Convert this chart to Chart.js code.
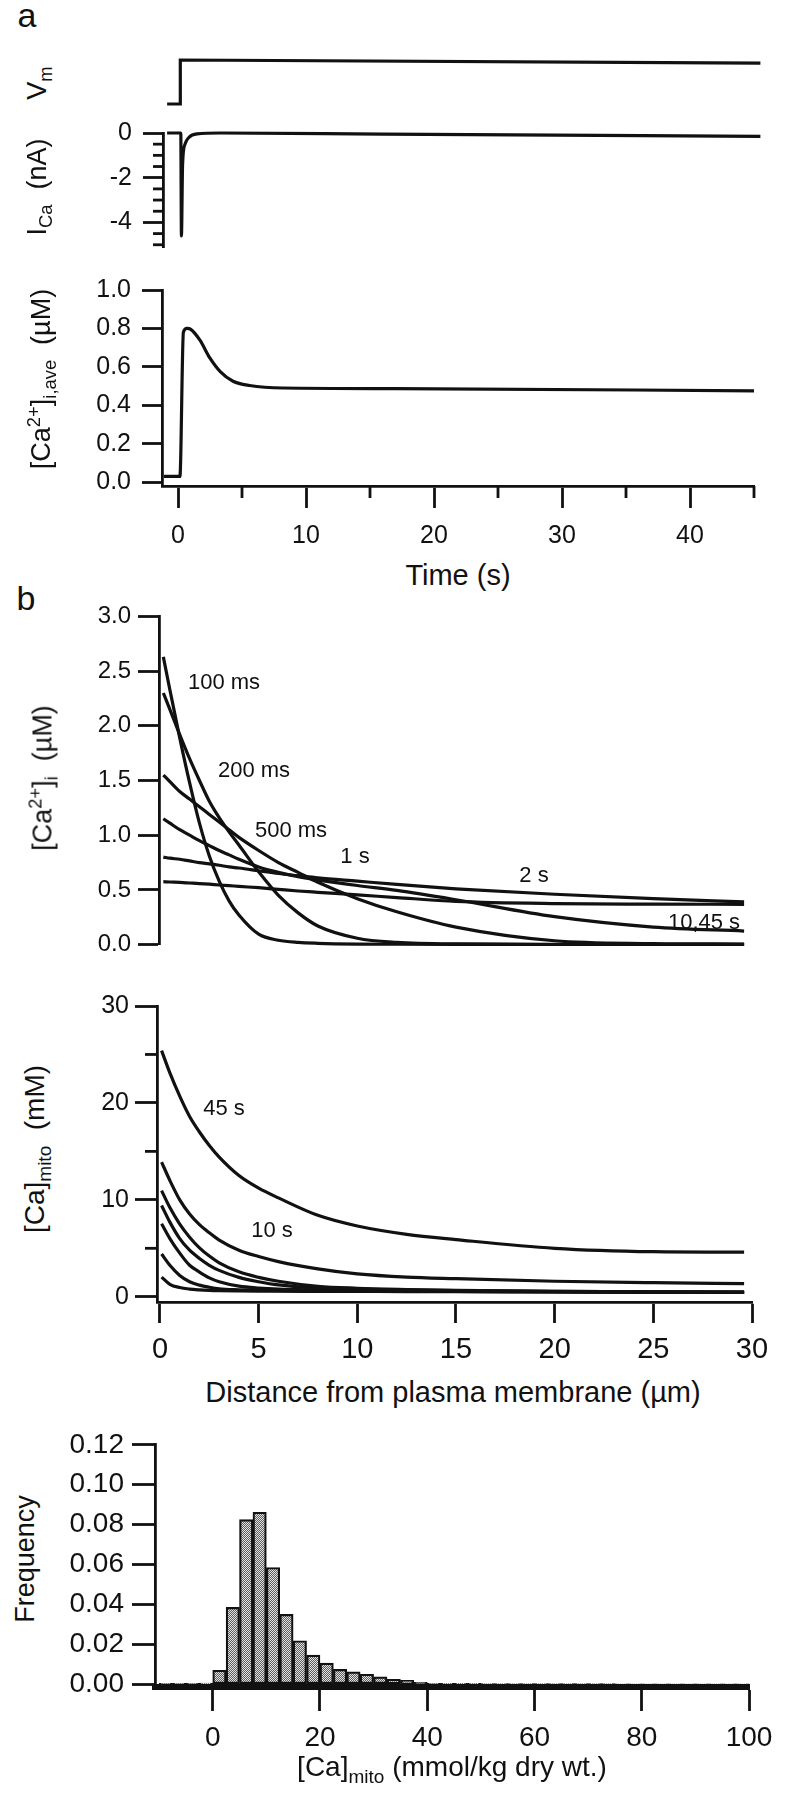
<!DOCTYPE html>
<html>
<head>
<meta charset="utf-8">
<script src="https://cdn.jsdelivr.net/npm/chart.js@4.4.0/dist/chart.umd.min.js"></script>
<style>
body { margin: 0; background: #fff; }
#page { position: relative; width: 786px; height: 1800px; overflow: hidden; font-family: 'Liberation Sans', Arial, sans-serif; color: #111; }
canvas { position: absolute; }
.lbl { position: absolute; white-space: nowrap; line-height: 1; }
.lbl sub, .lbl sup { font-size: 68%; line-height: 0; }
</style>
</head>
<body>
<div id="page"></div>
<script>
// ---- panel a: time course (s) ----
const vmTime = [-0.85, 0.17, 0.18, 45.5];
const vmLevel = [0, 0, 1, 0.93];
const icaTime = [-0.85, 0.22, 0.27, 0.36, 0.55, 0.85, 1.5, 3.3, 16, 45.5];
const icaCurrent = [0, 0, -4.6, -1.4, -0.5, -0.2, -0.04, 0, -0.05, -0.15];
const caTime = [-1.1, 0.15, 0.42, 0.7, 1.0, 1.7, 2.5, 3.3, 4.3, 5.6, 8.2, 17, 45];
const caAve = [0.03, 0.03, 0.78, 0.80, 0.795, 0.74, 0.645, 0.575, 0.525, 0.503, 0.49, 0.487, 0.475];

// ---- panel b: cytosolic Ca2+ profiles (um, uM) ----
const distCyto = [0.17, 0.5, 1, 1.5, 2, 2.5, 3, 3.5, 4, 5, 6, 7, 8, 10, 12, 15, 20, 25, 29.6];
const cyto100ms = [2.63, 2.33, 1.89, 1.48, 1.11, 0.81, 0.58, 0.40, 0.27, 0.095, 0.04, 0.02, 0.012, 0.005, 0.003, 0.002, 0.001, 0.001, 0.001];
const cyto200ms = [2.30, 2.15, 1.92, 1.70, 1.50, 1.31, 1.16, 1.03, 0.91, 0.665, 0.45, 0.29, 0.17, 0.058, 0.02, 0.006, 0.003, 0.002, 0.002];
const cyto500ms = [1.55, 1.49, 1.40, 1.33, 1.26, 1.19, 1.12, 1.05, 0.98, 0.86, 0.75, 0.66, 0.57, 0.42, 0.30, 0.16, 0.035, 0.01, 0.005];
const cyto1s = [1.15, 1.11, 1.05, 1.0, 0.95, 0.905, 0.86, 0.82, 0.78, 0.71, 0.66, 0.62, 0.59, 0.54, 0.495, 0.41, 0.255, 0.16, 0.124];
const cyto2s = [0.80, 0.79, 0.78, 0.765, 0.75, 0.738, 0.725, 0.71, 0.70, 0.675, 0.65, 0.63, 0.61, 0.58, 0.55, 0.51, 0.46, 0.42, 0.39];
const cyto10s45s = [0.575, 0.572, 0.568, 0.563, 0.558, 0.552, 0.545, 0.539, 0.532, 0.52, 0.505, 0.49, 0.478, 0.455, 0.43, 0.395, 0.375, 0.37, 0.368];

// ---- panel b: mitochondrial Ca profiles (um, mM) ----
const distMito = [0.08, 0.5, 1, 1.5, 2, 2.5, 3, 4, 5, 6, 8, 10, 12.5, 15, 20, 25, 29.6];
const mito45s = [25.4, 23.1, 20.7, 18.6, 17.0, 15.6, 14.4, 12.5, 11.2, 10.2, 8.4, 7.3, 6.44, 5.9, 5.0, 4.65, 4.6];
const mito10s = [13.9, 12.0, 10.0, 8.55, 7.45, 6.6, 5.85, 4.8, 4.15, 3.63, 2.88, 2.36, 2.03, 1.87, 1.6, 1.45, 1.36];
const mito2s = [10.95, 9.2, 7.5, 6.15, 5.05, 4.2, 3.5, 2.57, 2.0, 1.6, 1.08, 0.88, 0.75, 0.66, 0.56, 0.5, 0.47];
const mito1s = [9.42, 7.7, 6.0, 4.8, 3.95, 3.25, 2.72, 2.0, 1.55, 1.22, 0.9, 0.78, 0.7, 0.63, 0.55, 0.5, 0.47];
const mito500ms = [7.53, 6.0, 4.5, 3.25, 2.55, 1.95, 1.55, 1.1, 0.9, 0.79, 0.71, 0.66, 0.62, 0.59, 0.53, 0.49, 0.46];
const mito200ms = [4.41, 3.25, 2.2, 1.55, 1.2, 0.98, 0.82, 0.72, 0.67, 0.64, 0.61, 0.59, 0.57, 0.55, 0.51, 0.48, 0.45];
const mito100ms = [2.03, 1.29, 0.95, 0.79, 0.71, 0.66, 0.63, 0.6, 0.58, 0.57, 0.56, 0.55, 0.54, 0.52, 0.49, 0.46, 0.44];

// ---- histogram of measured [Ca]mito (bin start, mmol/kg dry wt.) ----
const binStart = [-10, -7.5, -5, -2.5, 0, 2.5, 5, 7.5, 10, 12.5, 15, 17.5, 20, 22.5, 25, 27.5, 30, 32.5, 35, 37.5, 40,
  42.5, 45, 47.5, 50, 52.5, 55, 57.5, 60, 62.5, 65, 67.5, 70, 72.5, 75, 77.5, 80, 82.5, 85, 87.5, 90, 92.5, 95, 97.5];
const binFreq = [0.0005, 0.0005, 0.0005, 0.0006, 0.0070, 0.0385, 0.0825, 0.0862, 0.0585, 0.0350, 0.0218, 0.0146, 0.0106, 0.0074, 0.0062, 0.0050, 0.0037, 0.0024, 0.0019, 0.0010, 0.0005,
  0.0004, 0.0004, 0.0004, 0.0003, 0.0003, 0.0003, 0.0003, 0.0003, 0.0003, 0.0003, 0.0003, 0.0003, 0.0003, 0.0002, 0.0002, 0.0002, 0.0002, 0.0002, 0.0002, 0.0002, 0.0002, 0.0002, 0.0002];
const BIN_W = 2.5;

const FONT = "'Liberation Sans', Arial, sans-serif";
const INK = '#111';
const page = document.getElementById('page');
const YW = 100, PADT = 16, PADR = 34, XH = 70;

// short unlabeled ticks between the labeled ones
const minorTicks = {
    id: 'minorTicks',
    afterDraw(chart, args, opts) {
        const ctx = chart.ctx;
        (opts.list || []).forEach(m => {
            const s = chart.scales[m.axis];
            ctx.save();
            ctx.strokeStyle = INK; ctx.lineWidth = 2.8;
            m.values.forEach(v => {
                const p = s.getPixelForValue(v);
                ctx.beginPath();
                if (s.isHorizontal()) { ctx.moveTo(p, s.top); ctx.lineTo(p, s.top + m.len); }
                else { ctx.moveTo(s.right, p); ctx.lineTo(s.right - m.len, p); }
                ctx.stroke();
            });
            ctx.restore();
        });
    }
};

function pts(xs, ys) { return xs.map((x, i) => ({ x: x, y: ys[i] })); }

function trace(xs, ys, extra) {
    return Object.assign({ data: pts(xs, ys), borderColor: INK, borderWidth: 3.2, pointRadius: 0, fill: false,
        cubicInterpolationMode: 'monotone', clip: 8 }, extra || {});
}

function yAxis(min, max, step, dec, size, len, pad) {
    return {
        type: 'linear', min: min, max: max, afterFit: s => { s.width = YW; },
        border: { display: true, color: INK, width: 2.8 },
        grid: { drawOnChartArea: false, tickLength: len, tickWidth: 2.8, tickColor: INK },
        ticks: { stepSize: step, includeBounds: false, autoSkip: false, color: INK, padding: pad,
            font: { family: FONT, size: size }, callback: v => v.toFixed(dec) }
    };
}

function xAxis(min, max, step, size, len, pad, bw) {
    return {
        type: 'linear', min: min, max: max, offset: false, afterFit: s => { s.height = XH; },
        border: { display: true, color: INK, width: bw || 2.8 },
        grid: { offset: false, drawOnChartArea: false, tickLength: len, tickWidth: 2.8, tickColor: INK },
        ticks: { stepSize: step, includeBounds: false, autoSkip: false, maxRotation: 0, color: INK, padding: pad,
            font: { family: FONT, size: size }, callback: v => String(v) }
    };
}

function hiddenAxis(min, max) { return { type: 'linear', display: false, min: min, max: max, offset: false }; }

function panel(area, type, datasets, scales, minor) {
    const showX = scales.x.display !== false, showY = scales.y.display !== false;
    const w = YW + area.r - area.l + PADR;
    const h = PADT + area.b - area.t + (showX ? XH : PADT);
    const c = document.createElement('canvas');
    c.width = w; c.height = h;
    c.style.left = (area.l - YW) + 'px'; c.style.top = (area.t - PADT) + 'px';
    c.style.width = w + 'px'; c.style.height = h + 'px';
    page.appendChild(c);
    return new Chart(c, {
        type: type,
        data: { datasets: datasets },
        options: {
            responsive: false, animation: false, devicePixelRatio: 1, events: [],
            layout: { padding: { top: PADT, right: PADR, left: showY ? 0 : YW, bottom: showX ? 0 : PADT } },
            scales: scales,
            plugins: { legend: { display: false }, tooltip: { enabled: false }, minorTicks: { list: minor || [] } }
        },
        plugins: [minorTicks]
    });
}

function text(html, x, y, size, rot) {
    const d = document.createElement('div');
    d.className = 'lbl';
    d.innerHTML = html;
    d.style.left = x + 'px'; d.style.top = y + 'px'; d.style.fontSize = size + 'px';
    d.style.transform = 'translate(-50%,-50%)' + (rot ? ' rotate(' + rot + 'deg)' : '');
    page.appendChild(d);
}

function stipple() {
    const c = document.createElement('canvas');
    c.width = 2; c.height = 2;
    const g = c.getContext('2d');
    g.fillStyle = '#e2e2e2'; g.fillRect(0, 0, 2, 2);
    g.fillStyle = '#5e5e5e'; g.fillRect(0, 0, 1, 1); g.fillRect(1, 1, 1, 1);
    return g.createPattern(c, 'repeat');
}

// a: membrane potential (no axis)
panel({ l: 162, t: 60, r: 754, b: 104 }, 'line',
    [trace(vmTime, vmLevel, { cubicInterpolationMode: 'default', tension: 0 })],
    { x: hiddenAxis(-1.25, 45), y: hiddenAxis(0, 1) });

// a: calcium current
panel({ l: 163, t: 123, r: 754, b: 257 }, 'line',
    [trace(icaTime, icaCurrent)],
    { x: hiddenAxis(-1.17, 45), y: yAxis(-5.1, 0, 2, 0, 25, 20, 11) },
    [{ axis: 'y', len: 10, values: [-0.5, -1, -1.5, -2.5, -3, -3.5, -4.5, -5] }]);

// a: average cytosolic calcium
panel({ l: 162, t: 280, r: 754, b: 486 }, 'line',
    [trace(caTime, caAve)],
    { x: xAxis(-1.25, 45, 10, 25, 22, 13), y: yAxis(-0.0198, 1.0, 0.2, 1, 25, 20, 11) },
    [{ axis: 'x', len: 12, values: [5, 15, 25, 35, 45] }]);

// b: cytosolic profiles
panel({ l: 159, t: 611, r: 752, b: 950 }, 'line',
    [cyto100ms, cyto200ms, cyto500ms, cyto1s, cyto2s, cyto10s45s].map(v => trace(distCyto, v)),
    { x: hiddenAxis(-0.05, 30), y: yAxis(0, 3, 0.5, 1, 24, 21, 7) });

// b: mitochondrial profiles
panel({ l: 157, t: 1001, r: 752, b: 1302 }, 'line',
    [mito45s, mito10s, mito2s, mito1s, mito500ms, mito200ms, mito100ms].map(v => trace(distMito, v)),
    { x: xAxis(-0.152, 30, 5, 29, 21, 10), y: yAxis(-0.54, 30, 10, 0, 25, 22, 6) },
    [{ axis: 'y', len: 12, values: [5, 15, 25] }]);

// histogram
panel({ l: 155, t: 1436, r: 749, b: 1687 }, 'bar',
    [{ data: binStart.map((s, i) => ({ x: s + BIN_W / 2, y: binFreq[i] })), backgroundColor: stipple(),
       borderColor: INK, borderWidth: 2.2, borderSkipped: false, barPercentage: 1, categoryPercentage: 1 }],
    { x: xAxis(-10.76, 100, 20, 28, 24, 10, 6), y: yAxis(-0.0014, 0.12, 0.02, 2, 28, 23, 8) });

// labels
text('a', 27, 15, 34);
text('b', 26, 598, 34);
text('V<sub>m</sub>', 37, 83, 27, -90);
text('I<sub>Ca</sub>&nbsp; (nA)', 37, 187, 27, -90);
text('[Ca<sup>2+</sup>]<sub>i,ave</sub>&nbsp; (&micro;M)', 41, 379, 27, -90);
text('Time (s)', 458, 575, 29);
text('[Ca<sup>2+</sup>]<sub>i</sub>&nbsp; (&micro;M)', 43, 778, 27, -90);
text('100 ms', 224, 682, 22);
text('200 ms', 254, 770, 22);
text('500 ms', 291, 830, 22);
text('1 s', 355, 856, 22);
text('2 s', 534, 875, 22);
text('10,45 s', 704, 922, 22);
text('[Ca]<sub>mito</sub>&nbsp; (mM)', 35, 1149, 28, -90);
text('45 s', 224, 1108, 22);
text('10 s', 272, 1230, 22);
text('Distance from plasma membrane (&micro;m)', 453, 1392, 29);
text('Frequency', 25, 1559, 27, -90);
text('[Ca]<sub>mito</sub> (mmol/kg dry wt.)', 452, 1767, 28);
</script>
</body>
</html>
